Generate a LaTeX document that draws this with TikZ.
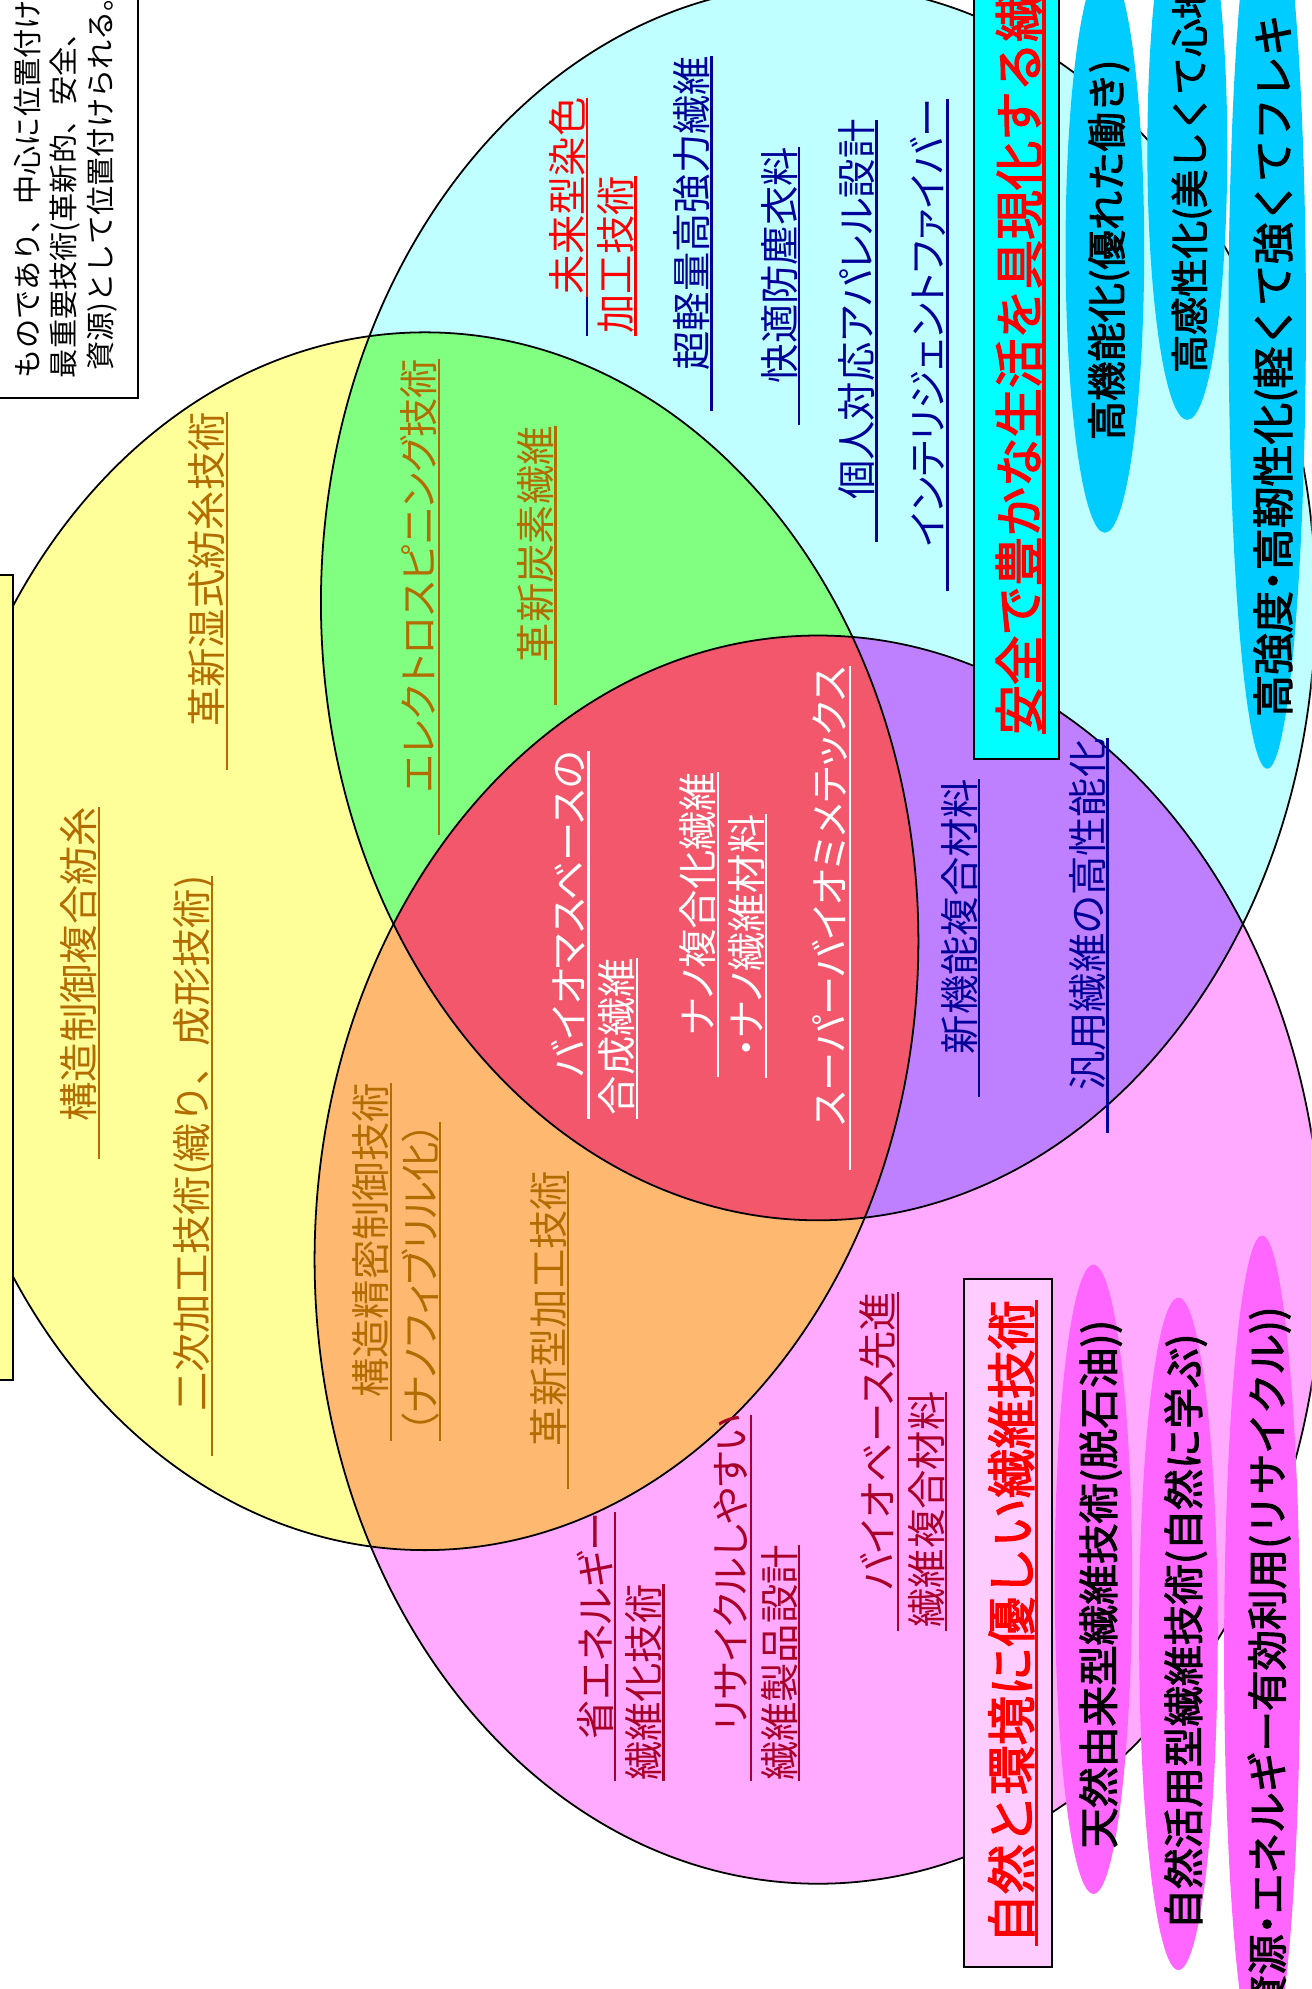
\documentclass[tikz,border=0pt]{standalone}
\usepackage{fontspec}
\newfontfamily\jp[RawFeature=+palt]{Noto Sans CJK JP}
\newfontfamily\jpm{Noto Sans CJK JP}
\newfontfamily\jpb[AutoFakeBold=2.5]{Noto Sans CJK JP}
\definecolor{cY}{RGB}{255,255,153}
\definecolor{cC}{RGB}{191,255,255}
\definecolor{cP}{RGB}{255,170,255}
\definecolor{cG}{RGB}{128,255,128}
\definecolor{cO}{RGB}{255,184,112}
\definecolor{cV}{RGB}{191,128,255}
\definecolor{cR}{RGB}{242,87,107}
\definecolor{cB}{RGB}{0,204,255}
\definecolor{cM}{RGB}{255,102,255}
\definecolor{cBox}{RGB}{0,255,255}
\definecolor{cPBox}{RGB}{255,204,255}
\definecolor{tBr}{RGB}{178,108,0}
\definecolor{tNv}{RGB}{0,0,153}
\definecolor{tCr}{RGB}{168,0,40}
% #1 name, #2 underline x, #3 text bottom y, #4 underline extension, #5 colour, #6 size, #7 text
\newcommand\utext[8][\jp]{%
  \node[jtx, text=#6, font={#1\fontsize{#7}{#7}\selectfont}] (#2) at ({#3-0.13*#7},#4) {#8};
  \draw[ulin, draw=#6] ([xshift={0.13*#7pt}, yshift={-#5pt}]#2.base west) -- ([xshift={0.13*#7pt}]#2.base east);
}
\newcommand\btext[6]{%
  \node[jtx, anchor=#4, font={\jpb\bfseries\fontsize{#5}{#5}\selectfont}] (#1) at (#2,#3) {#6};
}
\newcommand\ndot{\makebox[0.5em][c]{・}}
\begin{document}
\begin{tikzpicture}[x=1pt,y=-1pt,
  jtx/.style={rotate=90,anchor=base west,inner sep=0pt,outer sep=0pt},
  ulin/.style={line width=1.8pt},
  eline/.style={draw=black,line width=1.4pt},
  boxl/.style={draw=black,line width=1.6pt}]
\useasboundingbox (0,0) rectangle (1034,1568);
\clip (0,0) rectangle (1034,1568);
\fill[white] (0,0) rectangle (1034,1568);
% three sets
\fill[cY] (335,742) ellipse [x radius=389pt, y radius=480pt];
\fill[cC] (645,475) ellipse [x radius=392pt, y radius=487pt];
\fill[cP] (645,993) ellipse [x radius=397pt, y radius=492pt];
\begin{scope}
  \clip (645,475) ellipse [x radius=392pt, y radius=487pt];
  \fill[cV] (645,993) ellipse [x radius=397pt, y radius=492pt];
\end{scope}
\begin{scope}
  \clip (335,742) ellipse [x radius=389pt, y radius=480pt];
  \fill[cG] (645,475) ellipse [x radius=392pt, y radius=487pt];
  \fill[cO] (645,993) ellipse [x radius=397pt, y radius=492pt];
  \clip (645,475) ellipse [x radius=392pt, y radius=487pt];
  \fill[cR] (645,993) ellipse [x radius=397pt, y radius=492pt];
\end{scope}
\draw[eline] (335,742) ellipse [x radius=389pt, y radius=480pt];
\draw[eline] (645,475) ellipse [x radius=392pt, y radius=487pt];
\draw[eline] (645,993) ellipse [x radius=397pt, y radius=492pt];
% boxes at the left edge
\filldraw[fill=white, boxl] (-20,-20) rectangle (109,314);
\filldraw[fill=cY, boxl] (-60,453) rectangle (10,1088);
% blue and magenta ovals
\fill[cB] (871,196) ellipse [x radius=31pt, y radius=224pt];
\fill[cB] (936,118) ellipse [x radius=31.5pt, y radius=213pt];
\fill[cB] (999,250) ellipse [x radius=30.5pt, y radius=356pt];
\fill[cM] (862,1245) ellipse [x radius=30.5pt, y radius=248pt];
\fill[cM] (929,1288) ellipse [x radius=31pt, y radius=265pt];
\fill[cM] (995,1304) ellipse [x radius=30pt, y radius=330pt];
% title boxes
\filldraw[fill=cBox, boxl] (768,-20) rectangle (835,598);
\filldraw[fill=cPBox, boxl] (760,1008) rectangle (829,1551);
% note text
\node[jtx, font={\jpm\fontsize{23}{23}\selectfont}] (w2) at (30,298) {ものであり、中心に位置付け};
\node[jtx, font={\jpm\fontsize{23}{23}\selectfont}] (w3) at (59,298) {最重要技術(革新的、安全、};
\node[jtx, font={\jpm\fontsize{23}{23}\selectfont}] (w4) at (88,292) {資源)として位置付けられる。};
% yellow
\utext{yb1}{78}{884}{30}{tBr}{31}{構造制御複合紡糸}
\utext[\jpm]{yb2}{167}{1113}{35}{tBr}{31}{二次加工技術(織り、成形技術)}
\utext{yb3}{179}{573}{34}{tBr}{31}{革新湿式紡糸技術}
% green
\utext{g1}{346}{625}{33}{tBr}{31}{エレクトロスピニング技術}
\utext{g2}{438}{522}{34}{tBr}{31}{革新炭素繊維}
% orange
\utext{o1}{308}{1102}{34}{tBr}{31}{構造精密制御技術}
\utext{o2}{347}{1130}{6}{tBr}{31}{（ナノフィブリル化）}
\utext{o3}{448}{1140}{34}{tBr}{31}{革新型加工技術}
% red
\utext{r1}{464}{849}{33}{white}{31}{バイオマスベースの}
\utext{r2}{502}{879}{3}{white}{31}{合成繊維}
\utext{r3}{566}{816}{33}{white}{31}{ナノ複合化繊維}
\utext{r4}{604}{834}{16}{white}{31}{・ナノ繊維材料}
\utext{r5}{670}{888}{34}{white}{31}{スーパーバイオミメテックス}
% purple
\utext{p1}{772}{831}{34}{tNv}{31}{新機能複合材料}
\utext{p2}{873}{860}{33}{tNv}{31}{汎用繊維の高性能化}
% cyan
\utext{c1}{463}{232}{2}{red}{31}{未来型染色}
\draw[ulin, draw=tNv] ([xshift=4.03pt, yshift=-2pt]c1.base west) -- ([xshift=4.03pt, yshift=-33pt]c1.base west);
\utext{c2}{501}{263}{2}{red}{31}{加工技術}
\utext{c3}{561}{292}{32}{tNv}{31}{超軽量高強力繊維}
\utext{c4}{630}{302}{33}{tNv}{31}{快適防塵衣料}
\utext{c5}{691}{394}{33}{tNv}{31}{個人対応アパレル設計}
\utext{c6}{747}{431}{35}{tNv}{31}{インテリジェントファイバー}
% pink
\utext{k1}{485}{1371}{33}{tCr}{31}{省エネルギー}
\utext{k2}{523}{1404}{0}{tCr}{31}{繊維化技術}
\utext{k3}{592}{1365}{39}{tCr}{31}{リサイクルしやすい}
\utext{k4}{630}{1404}{0}{tCr}{31}{繊維製品設計}
\utext{k5}{708}{1254}{32}{tCr}{31}{バイオベース先進}
\utext{k6}{746}{1283}{3}{tCr}{31}{繊維複合材料}
% titles
\node[jtx, text=red, font={\jpb\bfseries\fontsize{39}{39}\selectfont}] (tC) at (818,579) {安全で豊かな生活を具現化する繊};
\draw[red, line width=2.6pt] ([xshift=5pt]tC.base west) -- ([xshift=5pt]tC.base east);
\node[jtx, text=red, font={\jpb\bfseries\fontsize{39}{39}\selectfont}] (tP) at (812,1532) {自然と環境に優しい繊維技術};
\draw[red, line width=2.6pt] ([xshift=5pt, yshift=-2pt]tP.base west) -- ([xshift=5pt]tP.base east);
% oval labels
\btext{b1}{884}{347}{base west}{31}{高機能化(優れた働き)}
\btext{b2}{949}{294}{base west}{30}{高感性化(美しくて心地}
\btext{b3}{1016}{565}{base west}{33}{高強度\ndot 高靭性化(軽くて強くてフレキ}
\btext{m1}{878}{1457}{base west}{32}{天然由来型繊維技術(脱石油))}
\btext{m2}{945}{1521}{base west}{32}{自然活用型繊維技術(自然に学ぶ)}
\btext{m3}{1011}{1030}{base east}{32}{資源\ndot エネルギー有効利用(リサイクル))}
\end{tikzpicture}
\end{document}
